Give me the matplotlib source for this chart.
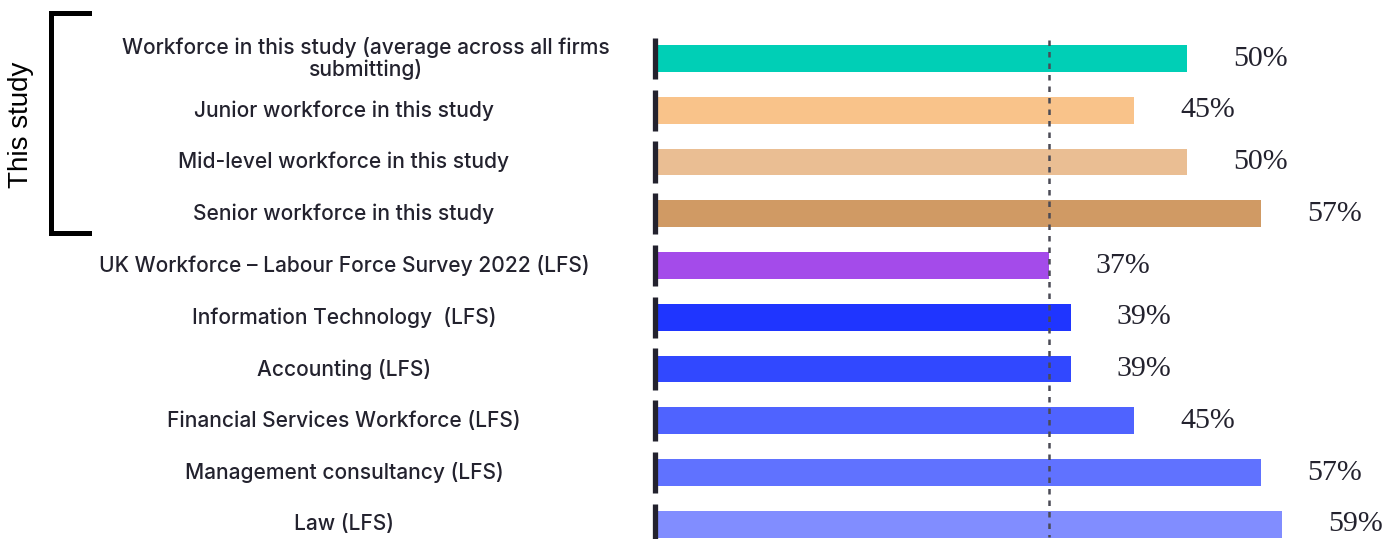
import matplotlib.pyplot as plt
from matplotlib.lines import Line2D

categories = [
    "Workforce in this study (average across all firms\nsubmitting)",
    "Junior workforce in this study",
    "Mid-level workforce in this study",
    "Senior workforce in this study",
    "UK Workforce \u2013 Labour Force Survey 2022 (LFS)",
    "Information Technology  (LFS)",
    "Accounting (LFS)",
    "Financial Services Workforce (LFS)",
    "Management consultancy (LFS)",
    "Law (LFS)",
]
values = [50, 45, 50, 57, 37, 39, 39, 45, 57, 59]
colors = ["#00CFB6", "#F9C38A", "#EABE93", "#D09A64", "#A44BEA",
          "#1F35FF", "#3148FF", "#4F63FF", "#6072FF", "#818DFF"]
reference = 37

W, H = 1396, 539
fig = plt.figure(figsize=(W / 100, H / 100), dpi=100)

x0 = 658          # pixel of 0%
pxp = 10.58       # pixels per percent
row0, pitch = 58.5, 51.75
ax = fig.add_axes([x0 / W, 0, 1 - x0 / W, 1])
ax.set_xlim(0, (W - x0) / pxp)
ax.set_ylim((H - row0) / pitch, -row0 / pitch)
ax.axis("off")

ys = list(range(len(categories)))
ax.barh(ys, values, height=0.52, color=colors, left=0)

# short dark marker at the start of each bar
for y in ys:
    ax.plot([-0.25, -0.25], [y - 0.4, y + 0.4], color="#23222e", lw=3.8,
            solid_capstyle="butt", clip_on=False)

ax.plot([reference, reference], [-0.36, 9.25], color="#4a4a55", lw=1.8,
        ls=(0, (2.2, 2.4)))

for y, c, v in zip(ys, categories, values):
    # the wrapped label sits a bit further right in the original
    cx = 366 if "\n" in c else 344
    ax.text((cx - x0) / pxp, y, c, ha="center", va="center",
            fontsize=15.1, family="Inter", weight="medium", color="#23222e",
            linespacing=1.08, clip_on=False)
    ax.text(v + 46 / pxp, y, f"{v}%", ha="left", va="center",
            fontsize=21.5, family="Liberation Serif", color="#23222e")

# bracket for "This study"
bx, btop, bbot, bend = 51 / W, 1 - 13 / H, 1 - 232.5 / H, 89 / W
fig.add_artist(Line2D([bend, bx, bx, bend], [btop, btop, bbot, bbot],
                      color="black", lw=3.6, solid_joinstyle="miter"))
fig.text(21 / W, 1 - 125 / H, "This study", rotation=90, ha="center",
         va="center", fontsize=20, family="Liberation Sans", color="black")

fig.savefig("out.png", dpi=100)
